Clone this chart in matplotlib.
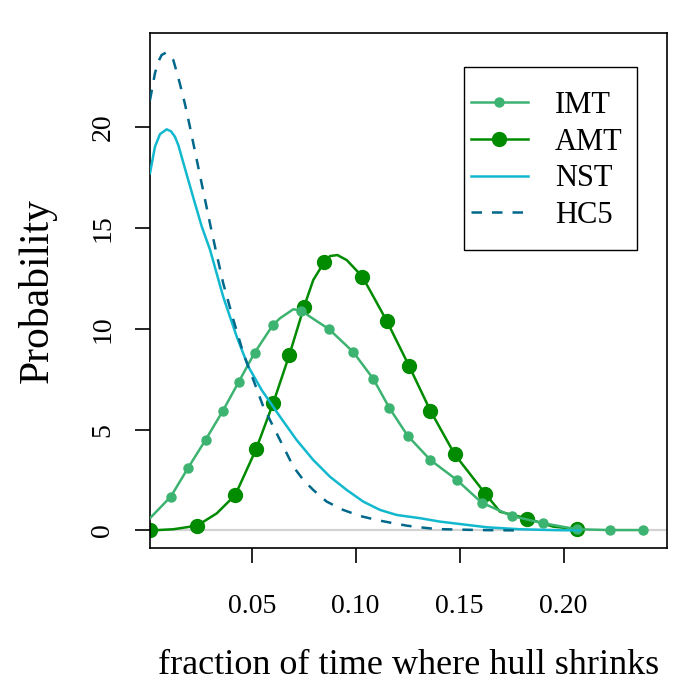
import numpy as np
import matplotlib
matplotlib.use("Agg")
import matplotlib.pyplot as plt
from matplotlib.patches import Rectangle

plt.rcParams["font.family"] = ["Liberation Serif", "DejaVu Serif"]
plt.rcParams["font.size"] = 20

# IMT: density curve and marker positions
imt_x = [0.0011, 0.0111, 0.0195, 0.0279, 0.0361, 0.0438, 0.0514, 0.0602, 0.0636,
         0.0700, 0.0737, 0.0804, 0.0872, 0.0988, 0.1085, 0.1162, 0.1250, 0.1359,
         0.1486, 0.1606, 0.1750, 0.1902, 0.2063, 0.2223, 0.2383]
imt_y = [0.61, 1.68, 3.12, 4.51, 5.93, 7.38, 8.82, 10.20, 10.53,
         10.98, 10.91, 10.45, 9.99, 8.86, 7.52, 6.08, 4.70, 3.50,
         2.51, 1.38, 0.72, 0.36, 0.06, 0.02, 0.02]
imt_mx = [0.0111, 0.0195, 0.0279, 0.0361, 0.0438, 0.0514, 0.0602, 0.0737, 0.0872,
          0.0988, 0.1085, 0.1162, 0.1250, 0.1359, 0.1486, 0.1606, 0.1750, 0.1902,
          0.2063, 0.2223, 0.2383]
imt_my = [1.68, 3.12, 4.51, 5.93, 7.38, 8.82, 10.20, 10.91, 9.99,
          8.86, 7.52, 6.08, 4.70, 3.50, 2.51, 1.38, 0.72, 0.36,
          0.06, 0.02, 0.02]

# AMT
amt_x = [0.0011, 0.0123, 0.0238, 0.0332, 0.0421, 0.0521, 0.0604, 0.0681, 0.0752,
         0.0796, 0.0849, 0.0877, 0.0912, 0.0957, 0.1032, 0.1149, 0.1256, 0.1359,
         0.1476, 0.1623, 0.1694, 0.1825, 0.1950, 0.2063]
amt_y = [0.0, 0.06, 0.24, 0.85, 1.76, 4.03, 6.34, 8.71, 11.11,
         12.43, 13.32, 13.62, 13.67, 13.42, 12.60, 10.41, 8.18, 5.95,
         3.78, 1.83, 0.93, 0.59, 0.19, 0.07]
amt_mx = [0.0011, 0.0238, 0.0421, 0.0521, 0.0604, 0.0681, 0.0752, 0.0849, 0.1032,
          0.1149, 0.1256, 0.1359, 0.1476, 0.1623, 0.1825, 0.2063]
amt_my = [0.0, 0.24, 1.76, 4.03, 6.34, 8.71, 11.11, 13.32, 12.60,
          10.41, 8.18, 5.95, 3.78, 1.83, 0.59, 0.07]

# NST
nst_x = [0.0011, 0.0035, 0.0059, 0.0091, 0.0112, 0.0131, 0.0148, 0.0163, 0.0195,
         0.0227, 0.0260, 0.0300, 0.0363, 0.0428, 0.0484, 0.0548, 0.0636, 0.0716,
         0.0796, 0.0876, 0.0957, 0.1037, 0.1117, 0.1197, 0.1309, 0.1405, 0.1469,
         0.1630, 0.1790, 0.1950, 0.2078]
nst_y = [17.73, 19.05, 19.67, 19.91, 19.81, 19.54, 19.10, 18.55, 17.39,
         16.24, 15.08, 13.92, 11.60, 9.62, 8.13, 6.97, 5.65, 4.49,
         3.50, 2.67, 2.01, 1.43, 1.02, 0.77, 0.61, 0.44, 0.36,
         0.16, 0.06, 0.02, 0.0]

# HC5
hc5_x = [0.0011, 0.0035, 0.0051, 0.0067, 0.0087, 0.0107, 0.0123, 0.0141, 0.0155,
         0.0179, 0.0203, 0.0227, 0.0252, 0.0276, 0.0300, 0.0327, 0.0363, 0.0412,
         0.0460, 0.0508, 0.0556, 0.0620, 0.0660, 0.0700, 0.0748, 0.0796, 0.0861,
         0.0940, 0.1021, 0.1101, 0.1181, 0.1245, 0.1325, 0.1389, 0.1598, 0.1798]
hc5_y = [21.36, 22.70, 23.27, 23.60, 23.71, 23.60, 23.35, 22.70, 22.16,
         21.17, 20.03, 18.83, 17.59, 16.40, 15.21, 13.92, 12.27, 10.45,
         8.79, 7.47, 6.14, 4.82, 4.00, 3.17, 2.51, 2.01, 1.43,
         1.02, 0.72, 0.52, 0.36, 0.24, 0.14, 0.07, 0.02, 0.0]

x_ticks = [0.05, 0.10, 0.15, 0.20]
x_ticklabels = ["0.05", "0.10", "0.15", "0.20"]
y_ticks = [0, 5, 10, 15, 20]

C_IMT = "#3CB371"
C_AMT = "#008B00"
C_NST = "#12B8CE"
C_HC5 = "#00688B"

fig = plt.figure(figsize=(7, 7), dpi=100)
ax = fig.add_axes([150 / 700, 152 / 700, 517 / 700, 515 / 700])

ax.axhline(0, color="#D3D3D3", lw=1.6, zorder=1)

ax.plot(amt_x, amt_y, color=C_AMT, lw=1.8, zorder=2)
ax.plot(amt_mx, amt_my, ls="none", marker="o", ms=10, color=C_AMT, zorder=2)
ax.plot(imt_x, imt_y, color=C_IMT, lw=1.8, zorder=3)
ax.plot(imt_mx, imt_my, ls="none", marker="o", ms=6.5, color=C_IMT, zorder=3)
ax.plot(nst_x, nst_y, color=C_NST, lw=1.8, zorder=4)
ax.plot(hc5_x, hc5_y, color=C_HC5, lw=1.8, dashes=(4.2, 4.0), zorder=4)

ax.set_xlim(0.0011, 0.2497)
ax.set_ylim(-0.87, 24.69)
ax.set_xticks(x_ticks)
ax.set_xticklabels(x_ticklabels)
ax.set_yticks(y_ticks)
ax.set_yticklabels([str(v) for v in y_ticks], rotation=90, va="center")
ax.tick_params(direction="out", length=11, width=1.2)
ax.tick_params(axis="x", pad=22)
ax.tick_params(axis="y", pad=14)
for sp in ax.spines.values():
    sp.set_linewidth(1.2)

ax.set_xlabel("fraction of time where hull shrinks", fontsize=26, labelpad=22)
ax.set_ylabel("Probability", fontsize=30, labelpad=24)

handles = [
    plt.Line2D([], [], color=C_IMT, lw=1.8, marker="o", ms=6.5),
    plt.Line2D([], [], color=C_AMT, lw=1.8, marker="o", ms=10),
    plt.Line2D([], [], color=C_NST, lw=1.8),
    plt.Line2D([], [], color=C_HC5, lw=1.8, dashes=(4.2, 4.0)),
]
leg = ax.legend(handles, ["IMT", "AMT", "NST", "HC5"], loc="upper left",
                bbox_to_anchor=(471 / 700, 1 - 91 / 700), bbox_transform=fig.transFigure,
                borderaxespad=0, borderpad=0, frameon=False, fontsize=22,
                handlelength=1.86, handletextpad=0.88, labelspacing=0.25)
fig.add_artist(Rectangle((464 / 700, 1 - 250 / 700), 173 / 700, 183 / 700,
                         transform=fig.transFigure, fill=False, lw=1.0,
                         edgecolor="black"))

fig.savefig("out.png", dpi=100)
